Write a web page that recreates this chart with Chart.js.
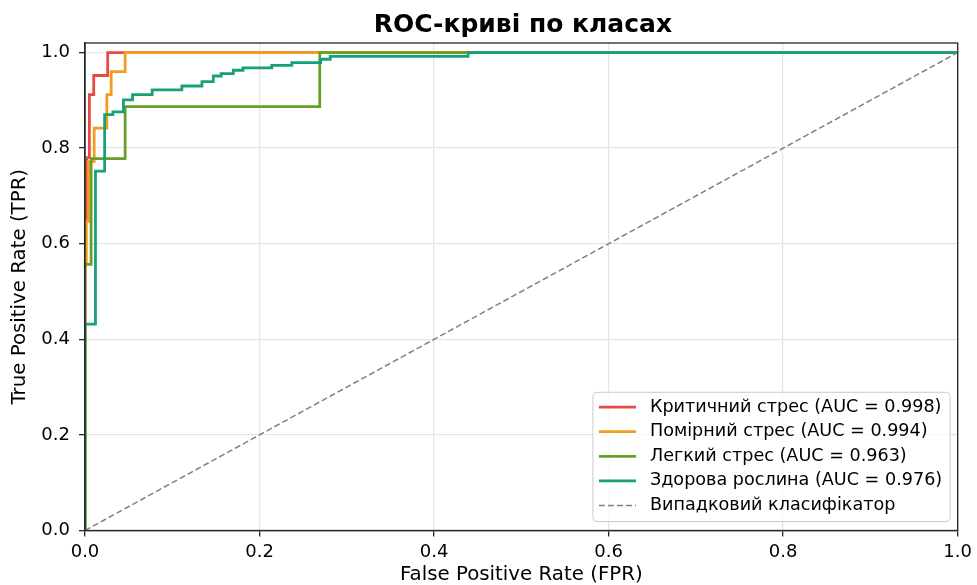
<!DOCTYPE html>
<html>
<head>
<meta charset="utf-8">
<title>ROC-криві по класах</title>
<script src="https://cdn.jsdelivr.net/npm/chart.js@4/dist/chart.umd.min.js"></script>
<style>
  html, body { margin: 0; padding: 0; background: #ffffff; }
  #wrap { width: 977px; height: 585px; }
</style>
</head>
<body>
<div id="wrap"><canvas id="roc" width="977" height="585"></canvas></div>
<script>
// ROC curve corner points per class (one-vs-rest)
const classNames = ['Критичний стрес', 'Помірний стрес', 'Легкий стрес', 'Здорова рослина'];
const aucValues = [0.998, 0.994, 0.963, 0.976];
const classColors = ['#e64a45', '#f39c1f', '#679f27', '#17a07a'];

const fprCritical = [0, 0, 0.002, 0.002, 0.005, 0.005, 0.010, 0.010, 0.026, 0.026, 1];
const tprCritical = [0, 0.65, 0.65, 0.78, 0.78, 0.912, 0.912, 0.952, 0.952, 1, 1];

const fprModerate = [0, 0, 0.0015, 0.0015, 0.004, 0.004, 0.0105, 0.0105, 0.025, 0.025, 0.030, 0.030, 0.046, 0.046, 1];
const tprModerate = [0, 0.557, 0.557, 0.647, 0.647, 0.772, 0.772, 0.842, 0.842, 0.912, 0.912, 0.960, 0.960, 1, 1];

const fprMild = [0, 0, 0.007, 0.007, 0.046, 0.046, 0.269, 0.269, 1];
const tprMild = [0, 0.557, 0.557, 0.778, 0.778, 0.887, 0.887, 1, 1];

const fprHealthy = [0, 0, 0.012, 0.012, 0.0225, 0.0225, 0.032, 0.032, 0.044, 0.044, 0.0545, 0.0545,
  0.077, 0.077, 0.111, 0.111, 0.134, 0.134, 0.147, 0.147, 0.156, 0.156, 0.170, 0.170, 0.181, 0.181,
  0.214, 0.214, 0.237, 0.237, 0.270, 0.270, 0.281, 0.281, 0.439, 0.439, 1];
const tprHealthy = [0, 0.432, 0.432, 0.752, 0.752, 0.870, 0.870, 0.876, 0.876, 0.901, 0.901, 0.912,
  0.912, 0.922, 0.922, 0.930, 0.930, 0.939, 0.939, 0.951, 0.951, 0.956, 0.956, 0.963, 0.963, 0.968,
  0.968, 0.973, 0.973, 0.979, 0.979, 0.986, 0.986, 0.992, 0.992, 1, 1];

// chance line
const diagFpr = [0, 1];
const diagTpr = [0, 1];
const diagLabel = 'Випадковий класифікатор';

const xTicks = [0, 0.2, 0.4, 0.6, 0.8, 1.0];
const yTicks = [0, 0.2, 0.4, 0.6, 0.8, 1.0];

const titleText = 'ROC-криві по класах';
const xTitle = 'False Positive Rate (FPR)';
const yTitle = 'True Positive Rate (TPR)';

const FONT = '"DejaVu Sans", "Liberation Sans", sans-serif';
const INK = '#262626';

const toPoints = (xs, ys) => xs.map((x, i) => ({ x, y: ys[i] }));
const curves = [
  [fprCritical, tprCritical],
  [fprModerate, tprModerate],
  [fprMild, tprMild],
  [fprHealthy, tprHealthy]
];

const datasets = curves.map(([xs, ys], i) => ({
  label: `${classNames[i]} (AUC = ${aucValues[i].toFixed(3)})`,
  data: toPoints(xs, ys),
  borderColor: classColors[i],
  backgroundColor: classColors[i],
  borderWidth: 2.8,
  pointRadius: 0,
  showLine: true,
  fill: false,
  tension: 0,
  clip: 0,
  order: 4 - i
}));
datasets.push({
  label: diagLabel,
  data: toPoints(diagFpr, diagTpr),
  borderColor: '#808080',
  backgroundColor: '#808080',
  borderWidth: 1.5,
  borderDash: [6, 3],
  pointRadius: 0,
  showLine: true,
  fill: false,
  clip: 0,
  order: 0
});

// frame, in-plot legend and title
const decor = {
  id: 'decor',
  afterDatasetsDraw(chart) {
    const { ctx, chartArea: a } = chart;
    ctx.save();
    ctx.strokeStyle = INK;
    ctx.lineWidth = 1.3;
    ctx.strokeRect(a.left, a.top, a.right - a.left, a.bottom - a.top);

    // legend box, lower right
    ctx.font = `17.6px ${FONT}`;
    const labels = chart.data.datasets.map(d => d.label);
    const textW = Math.max(...labels.map(t => ctx.measureText(t).width));
    const handleLen = 37, padL = 6, gap = 14, padR = 8;
    const rowH = 24.6;
    const boxW = padL + handleLen + gap + textW + padR;
    const boxH = 129.2;
    const boxR = a.right - 7.5;
    const boxB = a.bottom - 9;
    const bx = boxR - boxW, by = boxB - boxH;
    ctx.beginPath();
    ctx.roundRect(bx, by, boxW, boxH, 4);
    ctx.fillStyle = 'rgba(255,255,255,0.8)';
    ctx.fill();
    ctx.strokeStyle = '#cccccc';
    ctx.lineWidth = 1;
    ctx.stroke();

    chart.data.datasets.forEach((d, i) => {
      const cy = by + 14.8 + i * rowH;
      ctx.beginPath();
      ctx.setLineDash(d.borderDash || []);
      ctx.strokeStyle = d.borderColor;
      ctx.lineWidth = d.borderWidth;
      ctx.moveTo(bx + padL, cy);
      ctx.lineTo(bx + padL + handleLen, cy);
      ctx.stroke();
      ctx.setLineDash([]);
      ctx.fillStyle = '#000000';
      ctx.textAlign = 'left';
      ctx.textBaseline = 'middle';
      ctx.fillText(d.label, bx + padL + handleLen + gap, cy);
    });

    // title
    ctx.font = `bold 25px ${FONT}`;
    ctx.fillStyle = '#000000';
    ctx.textAlign = 'center';
    ctx.textBaseline = 'alphabetic';
    ctx.fillText(titleText, (a.left + a.right) / 2 + 1.5, 32.3);
    ctx.restore();
  }
};

const tickFont = { family: FONT, size: 18 };
const titleFont = { family: FONT, size: 19.8, lineHeight: 1 };

new Chart(document.getElementById('roc'), {
  type: 'scatter',
  data: { datasets },
  options: {
    responsive: false,
    animation: false,
    events: [],
    layout: { padding: { top: 43, right: 19, left: 0, bottom: 0 } },
    plugins: {
      legend: { display: false },
      tooltip: { enabled: false },
      title: { display: false }
    },
    scales: {
      x: {
        type: 'linear',
        min: 0,
        max: 1,
        afterFit(s) { s.height = 54.5; },
        afterBuildTicks(s) { s.ticks = xTicks.map(v => ({ value: v })); },
        ticks: { font: tickFont, color: '#000000', padding: 5, maxRotation: 0, callback: v => v.toFixed(1) },
        grid: { color: '#e6e6e6', lineWidth: 1.3, tickColor: INK, tickLength: 6, tickWidth: 1.3 },
        border: { display: true, color: INK, width: 1.3 },
        title: { display: true, text: xTitle, font: titleFont, color: '#000000', padding: { top: 0, bottom: 0 } }
      },
      y: {
        type: 'linear',
        min: 0,
        max: 1.02,
        afterFit(s) { s.width = 85; },
        afterBuildTicks(s) { s.ticks = yTicks.map(v => ({ value: v })); },
        ticks: { font: tickFont, color: '#000000', padding: 9, callback: v => v.toFixed(1) },
        grid: { color: '#e6e6e6', lineWidth: 1.3, tickColor: INK, tickLength: 6, tickWidth: 1.3 },
        border: { display: true, color: INK, width: 1.3 },
        title: { display: true, text: yTitle, font: titleFont, color: '#000000', padding: { top: 10, bottom: 0 } }
      }
    }
  },
  plugins: [decor]
});
</script>
</body>
</html>
